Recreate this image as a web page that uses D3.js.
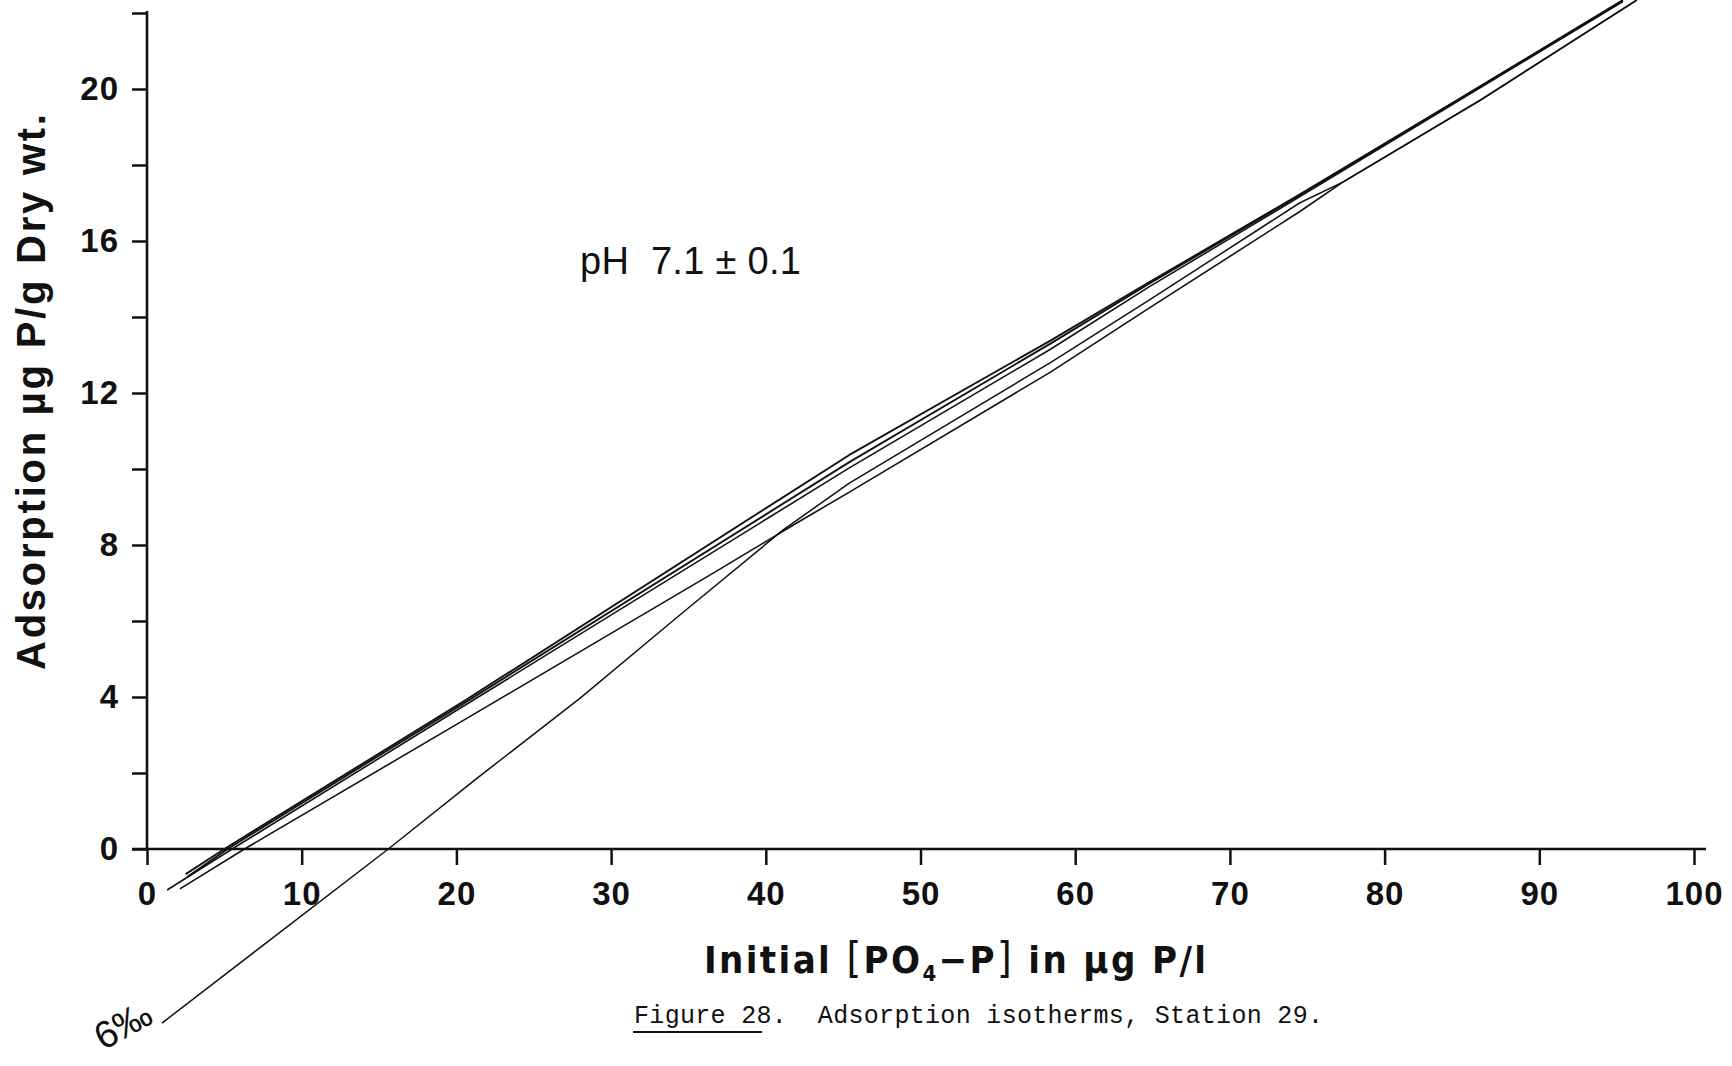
<!DOCTYPE html>
<html>
<head>
<meta charset="utf-8">
<script src="https://cdn.jsdelivr.net/npm/d3@7"></script>
<style>
  html, body { margin: 0; padding: 0; background: #fff; }
  svg { display: block; }
</style>
</head>
<body>
<svg width="1732" height="1066"></svg>
<script>
// ticks
const xTicks = [0, 10, 20, 30, 40, 50, 60, 70, 80, 90, 100];
const yTicks = [0, 2, 4, 6, 8, 10, 12, 14, 16, 18, 20, 22];
const yTickLabels = [0, 4, 8, 12, 16, 20];

// isotherms, [initial PO4-P, adsorption]
const isoA = [[2.5, -0.66], [5.0, 0], [20.6, 3.92], [45.4, 10.37], [58.4, 13.38], [64.8, 14.92], [74.5, 17.22], [84.7, 19.71], [95.4, 22.34]];
const isoB = [[2.6, -0.74], [5.2, 0], [20.5, 3.84], [45.4, 10.18], [58.4, 13.3], [64.8, 14.88], [74.5, 17.2], [95.4, 22.32]];
const isoC = [[1.3, -1.08], [5.5, 0], [21.1, 3.92], [45.4, 10.03], [58.4, 13.15], [64.8, 14.8], [74.5, 17.16], [95.4, 22.3]];
const iso6 = [[0.97, -4.58], [15.6, 0], [21.2, 1.82], [28.0, 3.97], [34.6, 6.21], [41.1, 8.39], [45.4, 9.63], [58.4, 12.8], [64.8, 14.45], [74.5, 17.0], [77.3, 17.55], [86.2, 19.71], [96.3, 22.34]];
const isoE = [[2.13, -1.05], [6.3, 0], [19.6, 3.18], [36.6, 7.26], [42.0, 8.58], [45.4, 9.39], [58.4, 12.55], [64.8, 14.24], [74.5, 16.77], [77.3, 17.55], [86.2, 19.71], [96.3, 22.34]];

const seriesLabel = "6‰";
const noteText = "pH  7.1 ± 0.1";
const yTitle = "Adsorption µg P/g Dry wt.";
const caption = "Figure 28.  Adsorption isotherms, Station 29.";

const svg = d3.select("svg");
const ink = "#111";
const sans = "'Liberation Sans', Arial, sans-serif";

const x = d3.scaleLinear().domain([0, 100]).range([147, 1694]);
const y = d3.scaleLinear().domain([0, 22]).range([849, 13]);

// axes
const yAxis = d3.axisLeft(y)
    .tickValues(yTicks)
    .tickSize(15)
    .tickPadding(13)
    .tickFormat(d => yTickLabels.includes(d) ? d : "");

const gy = svg.append("g")
    .attr("transform", `translate(${x(0)},0)`)
    .call(yAxis);

const xAxis = d3.axisBottom(x)
    .tickValues(xTicks)
    .tickSize(16)
    .tickPadding(17);

const gx = svg.append("g")
    .attr("transform", `translate(0,${y(0)})`)
    .call(xAxis);

[gx, gy].forEach(g => {
    g.select(".domain").remove();
    g.attr("font-family", sans).attr("font-size", 33).attr("font-weight", "bold");
    g.selectAll(".tick line").attr("stroke", ink).attr("stroke-width", 2.5);
    g.selectAll(".tick text").attr("fill", ink).style("letter-spacing", "1px");
});

// axis lines, a bit past the ends like the drawing
svg.append("line")
    .attr("x1", x(0)).attr("x2", x(0))
    .attr("y1", y(0) + 1).attr("y2", y(22) - 2)
    .attr("stroke", ink).attr("stroke-width", 2.6);
svg.append("line")
    .attr("x1", x(0) - 15).attr("x2", x(100) + 12)
    .attr("y1", y(0)).attr("y2", y(0))
    .attr("stroke", ink).attr("stroke-width", 2.6);

// isotherm lines
const line = d3.line().x(d => x(d[0])).y(d => y(d[1]));
const series = [
    {data: isoA, w: 1.9},
    {data: isoB, w: 1.9},
    {data: isoC, w: 1.6},
    {data: iso6, w: 1.5},
    {data: isoE, w: 1.6}
];
svg.selectAll(".iso")
    .data(series)
    .enter()
    .append("path")
    .attr("class", "iso")
    .attr("d", d => line(d.data))
    .attr("fill", "none")
    .attr("stroke", ink)
    .attr("stroke-width", d => d.w)
    .attr("stroke-linejoin", "round");

// salinity label ending at the start of its line
svg.append("text")
    .attr("transform", `translate(${x(iso6[0][0]) - 7},${y(iso6[0][1]) - 1}) rotate(-29)`)
    .attr("text-anchor", "end")
    .attr("font-family", sans)
    .attr("font-size", 38)
    .attr("fill", ink)
    .text(seriesLabel);

// pH note
svg.append("text")
    .attr("x", 580).attr("y", 274)
    .attr("font-family", sans)
    .attr("font-size", 38)
    .attr("fill", ink)
    .attr("textLength", 221)
    .attr("lengthAdjust", "spacing")
    .style("white-space", "pre")
    .text(noteText);

// y title
svg.append("text")
    .attr("transform", "translate(45,392) rotate(-90)")
    .attr("text-anchor", "middle")
    .attr("font-family", sans)
    .attr("font-size", 40)
    .attr("font-weight", "bold")
    .attr("fill", ink)
    .attr("textLength", 556)
    .attr("lengthAdjust", "spacing")
    .text(yTitle);

// x title
const xt = svg.append("text")
    .attr("x", 704).attr("y", 973)
    .attr("font-family", "'Liberation Sans Narrow', 'DejaVu Sans Condensed', 'Liberation Sans', sans-serif")
    .style("font-stretch", "condensed")
    .attr("font-size", 38)
    .attr("font-weight", "bold")
    .attr("fill", ink)
    .attr("textLength", 502)
    .attr("lengthAdjust", "spacing")
    .style("white-space", "pre");
xt.append("tspan").text("Initial ");
xt.append("tspan").attr("font-weight", "normal").attr("font-size", 42).text("[");
xt.append("tspan").text("PO");
xt.append("tspan").attr("font-size", 22).attr("dy", 8).text("4");
xt.append("tspan").attr("dy", -8).text("−P");
xt.append("tspan").attr("font-weight", "normal").attr("font-size", 42).text("]");
xt.append("tspan").text(" in µg P/l");

// caption
svg.append("text")
    .attr("x", 634).attr("y", 1023)
    .attr("font-family", "'Liberation Mono', 'DejaVu Sans Mono', monospace")
    .attr("font-size", 25)
    .attr("fill", ink)
    .attr("textLength", 689)
    .attr("lengthAdjust", "spacing")
    .style("white-space", "pre")
    .text(caption);
svg.append("line")
    .attr("x1", 633).attr("x2", 762)
    .attr("y1", 1032).attr("y2", 1032)
    .attr("stroke", ink).attr("stroke-width", 2);
</script>
</body>
</html>
